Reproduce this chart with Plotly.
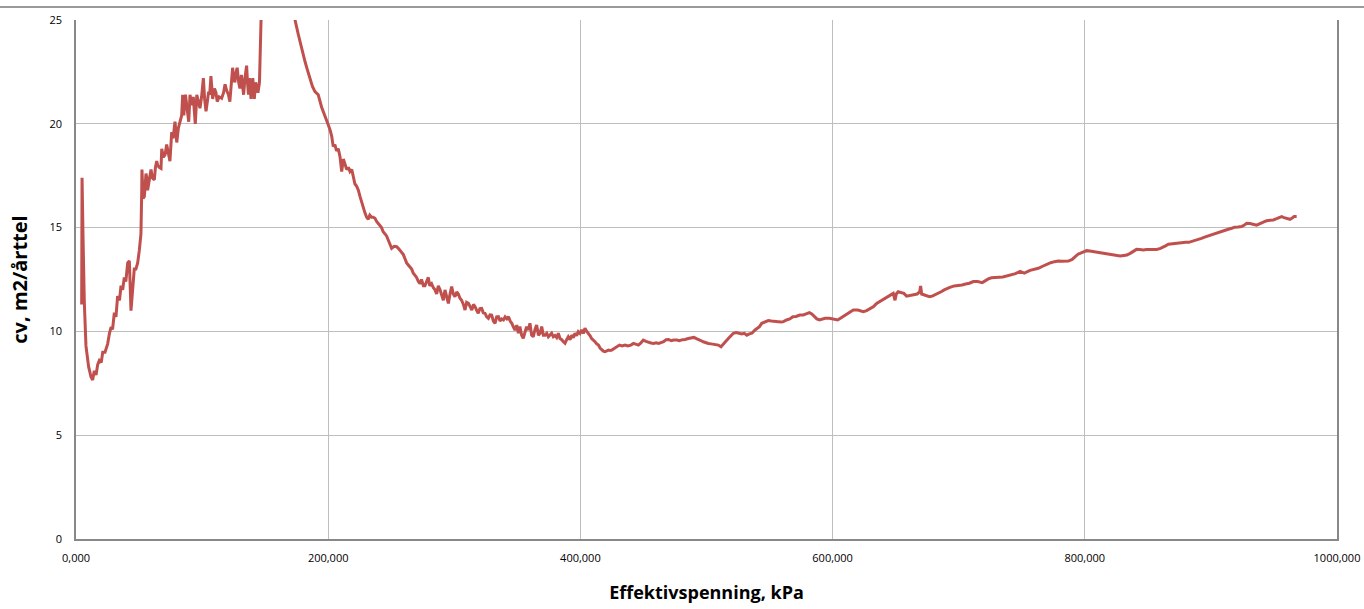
import plotly.graph_objects as go

# Effective stress (kPa) and coefficient of consolidation cv (m2/quarter)
stress_kpa = [
    4.5, 4.8, 5.6, 6.6, 7.9, 10.0, 11.9, 13.2, 14.5, 15.9, 17.2, 18.5, 20.0, 21.2, 23.0, 25.1, 26.5, 27.8, 29.0, 30.4,
    31.7, 33.0, 34.5, 35.7, 37.0, 38.3, 39.5, 41.0, 42.3, 43.0, 43.6, 44.9, 46.2, 47.5, 48.9, 50.2, 51.5, 52.1, 52.3, 53.2,
    54.2, 55.5, 56.1, 56.8, 58.0, 59.5, 60.5, 62.1, 63.0, 64.0, 64.8, 66.0, 67.4, 68.0, 69.3, 70.6, 71.9, 73.2, 74.5, 75.9,
    77.0, 78.5, 79.9, 81.2, 82.5, 83.8, 84.6, 85.5, 86.8, 88.0, 89.4, 90.4, 91.8, 93.0, 94.6, 95.8, 97.0, 98.3, 99.6, 101.0,
    102.0, 103.1, 104.2, 105.2, 106.0, 107.0, 108.4, 109.8, 111.0, 112.0, 113.5, 115.5, 117.0, 118.2, 119.5, 120.9, 122.0, 123.2, 124.2, 125.0,
    126.0, 127.0, 127.8, 129.0, 130.0, 131.2, 132.0, 132.9, 134.0, 135.3, 136.0, 136.8, 137.5, 138.8, 139.5, 140.2, 141.4, 142.5, 143.5, 144.3,
    145.5, 145.9, 146.7, 148.0, 152.0, 158.0, 164.0, 169.0, 173.7, 176.3, 179.0, 181.6, 183.5, 185.6, 187.5, 189.5, 192.1, 194.8, 197.0, 198.8,
    200.1, 201.5, 202.8, 204.0, 205.3, 206.6, 208.0, 209.4, 210.7, 212.0, 213.3, 214.7, 216.0, 217.3, 218.7, 220.0, 221.2, 222.5, 223.9, 225.2,
    226.5, 227.8, 229.2, 230.5, 231.8, 233.0, 234.4, 235.7, 237.1, 238.4, 239.7, 241.0, 242.3, 243.6, 245.0, 246.3, 247.6, 249.0, 250.3, 252.3,
    254.3, 255.6, 256.9, 258.2, 259.6, 260.9, 262.2, 263.5, 264.9, 266.2, 267.5, 268.8, 270.1, 271.5, 272.8, 274.0, 275.5, 276.7, 278.0, 279.4,
    280.5, 282.0, 283.4, 284.7, 286.0, 287.3, 288.7, 290.0, 291.3, 292.6, 294.0, 295.3, 296.6, 297.9, 299.2, 300.5, 301.9, 303.2, 304.5, 305.8,
    307.2, 308.5, 309.8, 311.2, 312.5, 313.9, 315.2, 316.5, 317.8, 319.0, 320.3, 321.7, 323.0, 324.4, 325.7, 327.0, 328.3, 329.6, 331.0, 332.3,
    333.6, 335.0, 336.3, 337.6, 339.0, 340.3, 341.7, 343.0, 344.3, 345.6, 347.0, 348.1, 349.5, 350.8, 352.0, 353.4, 354.7, 356.0, 357.3, 358.7,
    360.0, 361.3, 362.6, 364.0, 365.3, 366.7, 368.0, 369.3, 370.6, 372.0, 373.3, 374.6, 376.0, 377.2, 378.5, 379.8, 381.2, 382.5, 383.8, 385.2,
    386.5, 387.8, 389.1, 390.4, 391.8, 393.1, 394.4, 395.7, 397.0, 398.3, 399.7, 401.0, 402.3, 403.6, 405.0, 406.3, 407.6, 408.9, 410.2, 411.6,
    413.0, 414.3, 415.6, 416.9, 418.2, 419.5, 421.0, 422.2, 423.5, 424.8, 426.8, 428.8, 431.0, 433.0, 435.4, 437.5, 440.0, 442.1, 444.0, 446.0,
    448.0, 449.9, 452.0, 454.0, 456.0, 458.0, 460.0, 462.0, 464.0, 466.0, 468.0, 470.0, 472.0, 474.0, 476.5, 478.5, 481.0, 483.0, 485.5, 488.0,
    490.0, 492.0, 494.0, 495.5, 497.4, 499.5, 501.5, 503.5, 505.5, 507.5, 509.4, 511.5, 513.0, 515.0, 517.3, 519.3, 521.3, 523.5, 525.5, 528.0,
    530.0, 532.0, 534.0, 536.0, 538.5, 540.5, 542.0, 543.8, 546.5, 549.0, 551.5, 554.0, 556.9, 559.5, 561.0, 563.5, 566.0, 568.5, 571.0, 574.0,
    576.8, 579.0, 581.6, 583.5, 585.5, 587.5, 589.6, 592.0, 594.0, 597.5, 601.0, 604.0, 606.5, 609.8, 613.0, 616.4, 620.0, 622.0, 624.4, 627.0,
    630.0, 632.5, 634.9, 637.5, 640.0, 642.0, 644.2, 646.0, 648.1, 649.5, 650.5, 652.0, 655.0, 656.5, 658.7, 661.0, 664.0, 667.0, 669.0, 669.8,
    670.6, 672.5, 674.5, 676.8, 679.0, 681.0, 683.5, 686.1, 688.5, 690.5, 693.0, 696.5, 699.5, 702.6, 705.5, 708.5, 711.6, 715.0, 718.7, 721.0,
    723.5, 726.0, 728.8, 732.0, 735.0, 739.5, 743.0, 745.0, 748.7, 752.0, 756.6, 760.0, 763.1, 767.0, 771.1, 773.0, 776.0, 779.0, 782.0, 785.2,
    787.0, 790.0, 792.0, 794.8, 796.2, 798.8, 801.5, 804.0, 806.7, 809.5, 812.1, 815.0, 818.0, 820.0, 822.7, 825.5, 828.0, 831.0, 833.3, 836.0,
    838.5, 841.0, 843.5, 846.4, 849.0, 851.5, 854.0, 857.0, 860.0, 862.0, 864.0, 866.3, 869.0, 872.0, 875.0, 877.5, 880.0, 882.5, 885.0, 887.4,
    890.0, 892.5, 895.0, 897.9, 900.5, 903.0, 905.5, 908.5, 911.0, 913.8, 916.5, 919.0, 921.5, 924.4, 926.5, 928.4, 931.0, 933.0, 936.3, 938.5,
    940.0, 942.0, 944.2, 947.0, 949.5, 952.1, 954.0, 956.1, 958.0, 960.5, 962.7, 964.5, 966.0, 968.0,
]

cv_values = [
    11.3, 17.4, 14.5, 11.4, 9.3, 8.3, 7.8, 7.66, 8.1, 7.9, 8.4, 8.6, 8.5, 9.0, 9.0, 9.4, 9.9, 10.2, 10.1, 10.9,
    10.7, 11.7, 11.5, 12.2, 12.0, 12.6, 12.4, 13.3, 13.4, 12.4, 11.0, 12.0, 13.0, 13.0, 13.3, 13.9, 14.7, 16.7, 17.8, 16.4,
    16.5, 17.6, 17.4, 16.8, 17.3, 17.8, 17.4, 17.3, 17.9, 18.2, 18.0, 17.9, 17.85, 18.8, 18.4, 18.5, 19.0, 18.6, 18.2, 19.6,
    19.3, 20.1, 19.1, 19.8, 20.1, 20.4, 21.4, 20.4, 21.4, 20.8, 20.1, 21.4, 20.9, 21.3, 20.0, 21.4, 21.0, 20.75, 21.3, 22.2,
    21.2, 20.6, 21.1, 21.55, 21.4, 22.3, 21.2, 21.7, 21.5, 21.07, 21.3, 21.23, 21.5, 21.9, 21.6, 21.4, 21.07, 21.8, 22.7, 22.2,
    22.0, 22.5, 22.7, 22.0, 21.7, 22.35, 22.0, 21.4, 22.2, 22.8, 22.0, 21.4, 22.2, 21.2, 21.9, 22.2, 21.2, 22.0, 21.7, 21.5,
    22.0, 23.6, 24.9, 27.0, 30.0, 32.0, 31.0, 28.5, 25.0, 24.3, 23.6, 23.0, 22.6, 22.2, 21.8, 21.55, 21.4, 20.8, 20.4, 20.1,
    19.94, 19.7, 19.4, 18.9, 19.0, 18.7, 18.8, 18.4, 17.7, 18.3, 18.0, 17.8, 17.9, 17.7, 17.8, 17.4, 17.1, 17.0, 16.8, 16.5,
    16.2, 15.9, 15.7, 15.5, 15.4, 15.6, 15.5, 15.5, 15.45, 15.3, 15.2, 15.1, 15.0, 14.8, 14.7, 14.6, 14.4, 14.2, 14.0, 14.1,
    14.08, 14.0, 13.9, 13.8, 13.7, 13.5, 13.3, 13.2, 13.1, 13.0, 12.8, 12.7, 12.6, 12.4, 12.3, 12.5, 12.2, 12.2, 12.4, 12.6,
    12.2, 12.3, 12.1, 12.0, 11.8, 12.2, 12.0, 11.7, 11.5, 12.0, 11.6, 11.35, 11.8, 12.16, 11.8, 11.67, 11.9, 11.8, 11.6, 11.5,
    11.3, 11.03, 11.4, 11.35, 11.2, 11.03, 11.3, 11.19, 11.0, 10.87, 11.1, 11.11, 10.9, 10.87, 10.7, 10.63, 10.8, 10.79, 10.5, 10.39,
    10.7, 10.71, 10.5, 10.6, 10.55, 10.7, 10.6, 10.71, 10.5, 10.39, 10.2, 10.07, 10.3, 9.91, 10.23, 9.82, 9.66, 10.0, 10.23, 10.07,
    10.39, 9.82, 9.74, 10.1, 10.31, 9.82, 9.91, 10.23, 9.82, 9.82, 9.91, 9.74, 9.85, 9.91, 9.74, 9.8, 9.7, 9.91, 9.66, 9.6,
    9.5, 9.43, 9.6, 9.74, 9.6, 9.82, 9.7, 9.91, 9.8, 9.99, 9.9, 10.07, 9.9, 10.15, 10.0, 9.91, 9.8, 9.66, 9.6, 9.5,
    9.4, 9.34, 9.2, 9.1, 9.05, 9.02, 9.06, 9.1, 9.08, 9.1, 9.18, 9.26, 9.34, 9.3, 9.34, 9.3, 9.34, 9.42, 9.38, 9.34,
    9.45, 9.58, 9.52, 9.46, 9.44, 9.42, 9.45, 9.42, 9.46, 9.5, 9.6, 9.61, 9.55, 9.58, 9.58, 9.55, 9.6, 9.61, 9.66, 9.69,
    9.71, 9.65, 9.61, 9.56, 9.5, 9.45, 9.42, 9.4, 9.39, 9.36, 9.34, 9.26, 9.35, 9.5, 9.66, 9.8, 9.91, 9.95, 9.91, 9.88,
    9.91, 9.82, 9.88, 9.91, 10.07, 10.15, 10.23, 10.39, 10.45, 10.52, 10.5, 10.47, 10.47, 10.45, 10.47, 10.55, 10.6, 10.71, 10.72, 10.79,
    10.79, 10.84, 10.9, 10.84, 10.71, 10.6, 10.55, 10.58, 10.63, 10.63, 10.58, 10.55, 10.65, 10.79, 10.9, 11.03, 11.03, 11.0, 10.95, 11.0,
    11.11, 11.2, 11.35, 11.45, 11.51, 11.6, 11.67, 11.75, 11.83, 11.5, 11.8, 11.91, 11.85, 11.83, 11.7, 11.72, 11.75, 11.8, 11.9, 12.19,
    11.8, 11.75, 11.7, 11.67, 11.7, 11.75, 11.85, 11.91, 12.0, 12.07, 12.12, 12.19, 12.2, 12.24, 12.28, 12.32, 12.4, 12.4, 12.35, 12.45,
    12.53, 12.58, 12.61, 12.61, 12.62, 12.68, 12.75, 12.78, 12.89, 12.81, 12.94, 13.0, 13.04, 13.15, 13.28, 13.31, 13.36, 13.39, 13.38, 13.39,
    13.39, 13.47, 13.6, 13.73, 13.76, 13.84, 13.89, 13.87, 13.84, 13.8, 13.79, 13.75, 13.73, 13.7, 13.68, 13.65, 13.63, 13.66, 13.68, 13.76,
    13.84, 13.95, 13.94, 13.92, 13.94, 13.95, 13.95, 13.95, 14.0, 14.05, 14.12, 14.2, 14.22, 14.24, 14.27, 14.29, 14.29, 14.29, 14.33, 14.37,
    14.42, 14.48, 14.54, 14.6, 14.66, 14.73, 14.77, 14.81, 14.86, 14.92, 14.97, 15.02, 15.03, 15.05, 15.12, 15.21, 15.2, 15.18, 15.12, 15.18,
    15.24, 15.28, 15.33, 15.35, 15.37, 15.43, 15.48, 15.53, 15.48, 15.43, 15.4, 15.46, 15.53, 15.53,
]

x_ticks = [0, 200, 400, 600, 800, 1000]
x_tick_labels = ["0,000", "200,000", "400,000", "600,000", "800,000", "1000,000"]
y_ticks = [0, 5, 10, 15, 20, 25]

LINE_RED = "#C0504D"
GRID = "#BEBEBE"
AXIS = "#888888"
FONT = "Open Sans, Liberation Sans, sans-serif"

fig = go.Figure()
fig.add_trace(go.Scatter(
    x=stress_kpa, y=cv_values, mode="lines",
    line=dict(color=LINE_RED, width=3),
    hoverinfo="x+y", showlegend=False,
))

fig.update_layout(
    width=1364, height=609,
    margin=dict(l=76, r=27, t=20, b=70),
    paper_bgcolor="white", plot_bgcolor="white",
    font=dict(family=FONT, color="#000000"),
    xaxis=dict(
        range=[0, 1000], tickvals=x_ticks, ticktext=x_tick_labels,
        automargin=False,
        showgrid=True, gridcolor=GRID, gridwidth=1.3,
        showline=True, linecolor=AXIS, linewidth=1.5,
        ticks="outside", ticklen=8, tickcolor="rgba(0,0,0,0)",
        tickfont=dict(size=11, family=FONT),
        zeroline=False,
        title=dict(text="<b>Effektivspenning, kPa</b>", font=dict(size=18, family=FONT), standoff=22),
    ),
    yaxis=dict(
        range=[0, 25], tickvals=y_ticks,
        automargin=False,
        showgrid=True, gridcolor=GRID, gridwidth=1.3,
        showline=True, linecolor=AXIS, linewidth=1.5, mirror=True,
        ticks="outside", ticklen=10, tickcolor="rgba(0,0,0,0)",
        tickfont=dict(size=11, family=FONT),
        zeroline=False,
        title=dict(text="<b>cv, m2/årttel</b>", font=dict(size=20, family=FONT), standoff=16),
    ),
)

# thin rule across the top of the page
fig.add_shape(
    type="line", xref="paper", yref="paper",
    x0=-76 / 1261, x1=(1364 - 76) / 1261,
    y0=(539 - 7) / 519, y1=(539 - 7) / 519,
    line=dict(color="#9A9A9A", width=2),
)

fig.write_html("out.html")
